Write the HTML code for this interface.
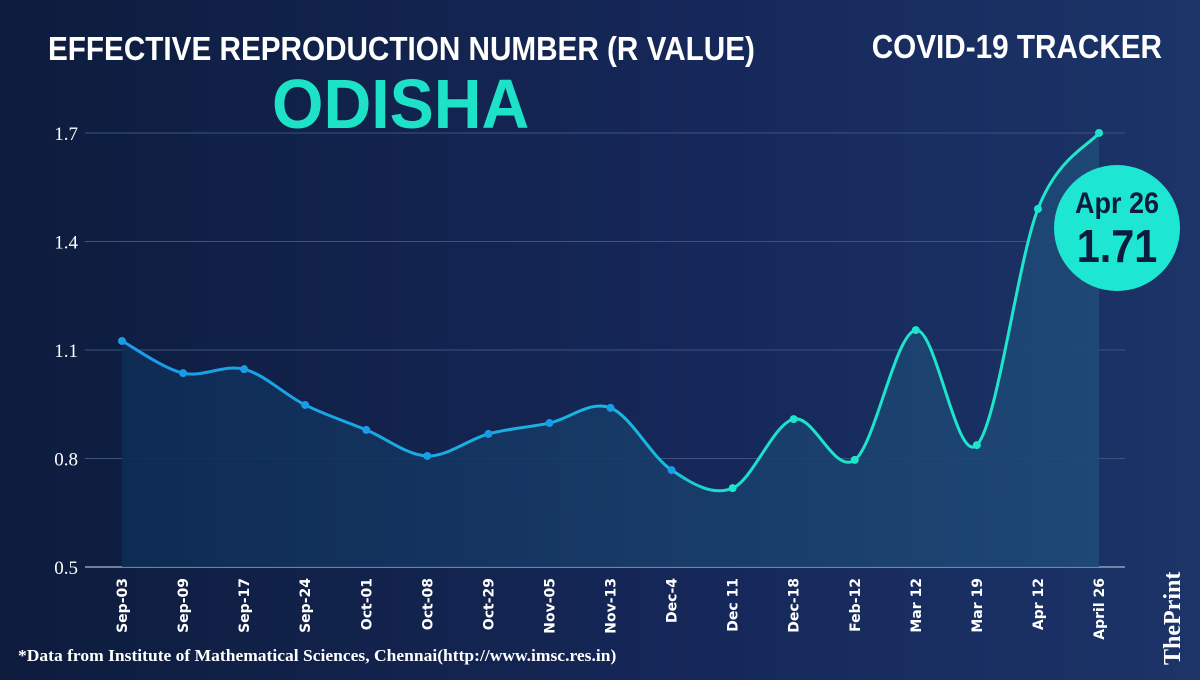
<!DOCTYPE html>
<html><head><meta charset="utf-8"><style>
body{margin:0;width:1200px;height:675px;overflow:hidden;background:linear-gradient(90deg,#0d1c3d 0%,#16285a 60%,#1c3468 100%);font-family:"Liberation Sans",sans-serif}
</style></head><body>
<svg id="c" width="1200" height="675" xmlns="http://www.w3.org/2000/svg">
<defs>
<linearGradient id="lg" x1="0" x2="1" y1="0" y2="0"><stop offset="0" stop-color="#1a9be8"/><stop offset="0.55" stop-color="#1ab8e0"/><stop offset="0.62" stop-color="#1de0cc"/><stop offset="1" stop-color="#1de9c9"/></linearGradient>
<linearGradient id="fg" x1="0" x2="1" y1="0" y2="0"><stop offset="0" stop-color="#0e2c55"/><stop offset="1" stop-color="#1f4a78"/></linearGradient>
</defs>
<text x="48" y="60" fill="#fff" font-size="33" font-weight="bold" transform="scale(0.9,1)" style="transform-origin:48px 60px">EFFECTIVE REPRODUCTION NUMBER (R VALUE)</text>
<text x="272" y="128" fill="#1de2c8" font-size="70" font-weight="bold" transform="scale(0.945,1)" style="transform-origin:272px 128px">ODISHA</text>
<text x="1162" y="58" fill="#fff" font-size="33" font-weight="bold" text-anchor="end" transform="scale(0.9,1)" style="transform-origin:1162px 58px">COVID-19 TRACKER</text>
<g id="grid"></g><g id="area"></g><g id="line"></g><g id="pts"></g><g id="xl"></g>
<g>
<circle cx="1117" cy="228" r="63" fill="#1de6d2"/>
<text x="1117" y="213" fill="#0d1c3d" font-size="30" font-weight="bold" text-anchor="middle" transform="scale(0.9,1)" style="transform-origin:1117px 213px">Apr 26</text>
<text x="1117" y="262" fill="#0d1c3d" font-size="46" font-weight="bold" text-anchor="middle" transform="scale(0.9,1)" style="transform-origin:1117px 262px">1.71</text>
</g>
<text x="18" y="661" fill="#fff" font-size="17" font-weight="bold" font-family="Liberation Serif" transform="scale(1.03,1)" style="transform-origin:18px 661px">*Data from Institute of Mathematical Sciences, Chennai(http://www.imsc.res.in)</text>
<text x="0" y="0" fill="#fff" font-size="24" font-weight="bold" font-family="Liberation Serif" transform="translate(1180,665) rotate(-90)">ThePrint</text>
</svg>
<script>
const categories=["Sep-03","Sep-09","Sep-17","Sep-24","Oct-01","Oct-08","Oct-29","Nov-05","Nov-13","Dec-4","Dec 11","Dec-18","Feb-12","Mar 12","Mar 19","Apr 12","April 26"];
const values=[1.125,1.036,1.047,0.948,0.879,0.807,0.868,0.898,0.94,0.768,0.718,0.909,0.796,1.155,0.837,1.49,1.70];
const yTicks=[0.5,0.8,1.1,1.4,1.7];
const NS="http://www.w3.org/2000/svg";
const x=i=>122+i*(1099-122)/(categories.length-1);
const y=v=>567-(v-0.5)*361.7;
function el(t,a,p){const e=document.createElementNS(NS,t);for(const k in a)e.setAttribute(k,a[k]);document.getElementById(p).appendChild(e);return e;}
yTicks.forEach(t=>{
 const l=el("line",{x1:85,x2:1125,y1:y(t),y2:y(t),stroke:t===0.5?"#8ea0c0":"#3c5283","stroke-width":t===0.5?1.5:1},"grid");
 
 
 const tx=el("text",{x:78,y:y(t)+7,fill:"#fff","font-size":19,"text-anchor":"end","font-family":"Liberation Serif"},"grid");tx.textContent=t.toFixed(1);
 
 
});
const P=values.map((v,i)=>[x(i),y(v)]);
let d="M"+P[0][0]+","+P[0][1];
for(let i=0;i<P.length-1;i++){const p0=P[Math.max(i-1,0)],p1=P[i],p2=P[i+1],p3=P[Math.min(i+2,P.length-1)];
 d+=` C${p1[0]+(p2[0]-p0[0])/6},${p1[1]+(p2[1]-p0[1])/6} ${p2[0]-(p3[0]-p1[0])/6},${p2[1]-(p3[1]-p1[1])/6} ${p2[0]},${p2[1]}`;}
const a=el("path",{d:d+` L${x(values.length-1)},${y(0.5)} L${x(0)},${y(0.5)} Z`,fill:"url(#fg)",opacity:0.9},"area");


const ln=el("path",{d:d,fill:"none",stroke:"url(#lg)","stroke-width":3},"line");


P.forEach((p,i)=>{
 const c=el("circle",{cx:p[0],cy:p[1],r:4,fill:i<10?"#1a9be8":"#1de6cc"},"pts");
 
 
 const t=el("text",{fill:"#fff","font-size":14,"font-weight":"bold","font-family":"DejaVu Sans","text-anchor":"end",transform:`translate(${p[0]+5},${578}) rotate(-90)`},"xl");
 t.textContent=categories[i];
 
 
});
</script>
</body></html>
